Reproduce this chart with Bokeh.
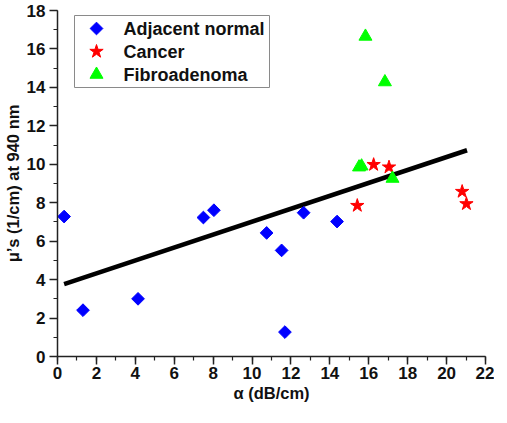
import math
from bokeh.plotting import figure
from bokeh.models import Range1d, SingleIntervalTicker
from bokeh.core.properties import value
from bokeh.embed import file_html
from bokeh.resources import INLINE

# Data
normal_x = [0.34, 1.31, 4.14, 7.5, 8.04, 10.75, 11.52, 11.69, 12.65, 14.37]
normal_y = [7.28, 2.41, 3.0, 7.23, 7.61, 6.43, 5.52, 1.27, 7.48, 7.02]
cancer_x = [15.41, 16.25, 17.04, 20.8, 21.02]
cancer_y = [7.85, 9.98, 9.85, 8.58, 7.94]
fibro_x = [15.5, 15.63, 15.83, 16.83, 17.22]
fibro_y = [9.85, 9.9, 16.65, 14.28, 9.26]
fit_x = [0.34, 21.05]
fit_y = [3.76, 10.73]
legend_labels = ["Adjacent normal", "Cancer", "Fibroadenoma"]

FONT = "Liberation Sans"
BLUE, RED, GREEN = "#0000ff", "#ff0000", "#00ff00"
FW, FH = 428, 346  # frame size in px

p = figure(frame_width=FW, frame_height=FH, output_backend="svg", toolbar_location=None,
           x_range=Range1d(0, 22), y_range=Range1d(0, 18),
           min_border_left=54, min_border_right=9, min_border_top=10, min_border_bottom=51)
p.outline_line_color = None
p.grid.visible = False
p.background_fill_color = "white"
p.extra_x_ranges = {"px": Range1d(0, FW)}
p.extra_y_ranges = {"px": Range1d(0, FH)}

for ax in (p.xaxis[0], p.yaxis[0]):
    ax.ticker = SingleIntervalTicker(interval=2, num_minor_ticks=2)
    ax.major_tick_in = 0
    ax.major_tick_out = 8
    ax.minor_tick_in = 0
    ax.minor_tick_out = 4
    ax.axis_line_width = 1.5
    ax.major_tick_line_width = 1.5
    ax.minor_tick_line_width = 1.2
    ax.axis_line_color = "#222222"
    ax.major_tick_line_color = "#222222"
    ax.minor_tick_line_color = "#222222"
    ax.major_label_text_font = FONT
    ax.major_label_text_font_style = "bold"
    ax.major_label_text_font_size = "17px"
    ax.major_label_text_color = "#111111"
    ax.axis_label_text_font = FONT
    ax.axis_label_text_font_style = "bold"
    ax.axis_label_text_font_size = "16.5px"
    ax.axis_label_text_color = "#111111"

p.xaxis.axis_label = "α (dB/cm)"
p.yaxis.axis_label = "μ’s (1/cm) at 940 nm"
p.xaxis.major_label_standoff = 2
p.yaxis.major_label_standoff = 4
p.xaxis.axis_label_standoff = 2
p.yaxis.axis_label_standoff = 2

p.line(fit_x, fit_y, line_color="black", line_width=4.5)

p.scatter(normal_x, normal_y, marker="square", size=9, angle=math.pi / 4,
          fill_color=BLUE, line_color=BLUE)
p.scatter(cancer_x, cancer_y, marker="star", size=14,
          fill_color=RED, line_color=RED)
p.scatter(fibro_x, fibro_y, marker="triangle", size=13,
          fill_color=GREEN, line_color=GREEN)

# Legend (drawn in frame pixel coordinates)
p.quad(left=[17], right=[212], top=[FH - 5], bottom=[FH - 77],
       x_range_name="px", y_range_name="px",
       fill_color="white", line_color="#8a8a8a", line_width=1)
row_y = [FH - 18, FH - 41, FH - 64]
mk_x = 39
p.scatter([mk_x], [row_y[0]], marker="square", size=9, angle=math.pi / 4,
          fill_color=BLUE, line_color=BLUE, x_range_name="px", y_range_name="px")
p.scatter([mk_x], [row_y[1]], marker="star", size=14,
          fill_color=RED, line_color=RED, x_range_name="px", y_range_name="px")
p.scatter([mk_x], [row_y[2]], marker="triangle", size=13,
          fill_color=GREEN, line_color=GREEN, x_range_name="px", y_range_name="px")
p.text([66] * 3, row_y, text=legend_labels, x_range_name="px", y_range_name="px",
       text_font=value(FONT), text_font_style="bold", text_font_size="18px",
       text_color="#111111", text_baseline="middle", text_align="left")

open("out.html", "w").write(file_html(p, INLINE))
